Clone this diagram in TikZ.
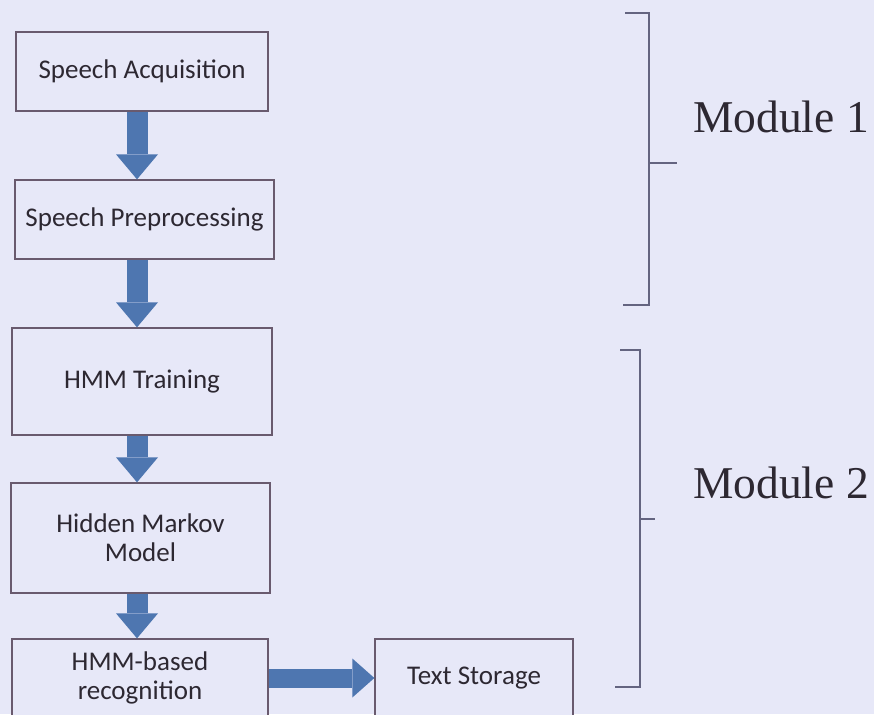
\documentclass[tikz,border=0pt]{standalone}
\usepackage{fontspec}
\setmainfont{Carlito}
\newfontfamily\tms{Liberation Serif}
\usetikzlibrary{arrows.meta}
\definecolor{bg}{RGB}{231,232,248}
\definecolor{boxline}{RGB}{105,90,110}
\definecolor{txt}{RGB}{45,40,50}
\definecolor{arr}{RGB}{78,118,176}
\definecolor{bracecol}{RGB}{100,100,128}
\begin{document}
\begin{tikzpicture}[x=1pt,y=-1pt,
  procbox/.style={draw=boxline, line width=1.3pt, fill=bg, text=txt, inner sep=0pt, align=center, font=\fontsize{27}{29}\selectfont},
  vblock/.style={draw=arr, line width=21pt, -{Triangle[length=25pt,width=42pt,line width=0pt]}},
  hblock/.style={draw=arr, line width=19pt, -{Triangle[length=22pt,width=39pt,line width=0pt]}},
  bracket/.style={draw=bracecol, line width=1.2pt},
  modlabel/.style={anchor=base west, inner sep=0pt, text=txt, font=\tms\fontsize{45.5}{48}\selectfont}]
\useasboundingbox (0,0) rectangle (874,714);
\clip (0,0) rectangle (874,714);
\fill[bg] (0,0) rectangle (874,714);

\node[procbox, minimum width=252pt, minimum height=79pt] (a) at (142,71.5) {Speech Acquisition};
\node[procbox, minimum width=259pt, minimum height=79pt] (b) at (144.5,219.5) {Speech Preprocessing};
\node[procbox, minimum width=260pt, minimum height=107pt] (c) at (142,381.5) {HMM Training};
\node[procbox, minimum width=259pt, minimum height=110pt] (d) at (140.5,538) {Hidden Markov\\Model};
\node[procbox, minimum width=256pt, minimum height=78pt] (e) at (140,678) {HMM-based\\recognition};
\node[procbox, minimum width=198pt, minimum height=78pt] (f) at (474,678) {Text Storage};

\coordinate (ax) at (137,0);
\draw[vblock] (a.south -| ax) -- (b.north -| ax);
\draw[vblock] (b.south -| ax) -- (c.north -| ax);
\draw[vblock] (c.south -| ax) -- (d.north -| ax);
\draw[vblock] (d.south -| ax) -- (e.north -| ax);
\draw[hblock] (e.east) -- (f.west);

\draw[bracket] (625,13) -- (649,13) -- (649,305) -- (623,305);
\draw[bracket] (649,163) -- (677,163);
\draw[bracket] (620,350) -- (640,350) -- (640,687) -- (615,687);
\draw[bracket] (640,519) -- (655,519);

\node[modlabel] (m1) at (693,133) {Module 1};
\node[modlabel] (m2) at (693,498) {Module 2};
\end{tikzpicture}
\end{document}
